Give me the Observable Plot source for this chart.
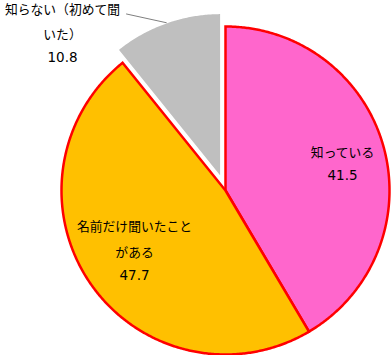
<!DOCTYPE html>
<html><head><meta charset="utf-8">
<script src="https://cdn.jsdelivr.net/npm/d3@7"></script>
<script src="https://cdn.jsdelivr.net/npm/@observablehq/plot@0.6"></script>
<style>
html,body{margin:0;padding:0;background:#fff}
g[aria-label="values"] text{letter-spacing:1.3px}
</style>
</head><body><div id="chart"></div>
<script>
// Data
const categories = ["知っている", "名前だけ聞いたことがある", "知らない（初めて聞いた）"];
const labelText = ["知っている", "名前だけ聞いたこと\nがある", "知らない（初めて聞\nいた）"];
const values = [41.5, 47.7, 10.8];

// Styling
const palette = ["#FF66CC", "#FFC000", "#BFBFBF"];
const outline = ["#FF0000", "#FF0000", "#FFFFFF"];
const explode = [0, 0, 0.085];

// Layout (data units: pie radius = 1)
const R = 164;
const cx = 225, cy = 190;
const W = 391, H = 355;
const lineGap = 25.5; // px between label lines
const labelR = [0.735, 0.658];
const labelShift = [1.4, 2.2]; // degrees
const outsideLabel = {x: (62 - cx) / R, y: (cy - 30.5) / R};

const total = d3.sum(values);
let cum = 0;
const slices = values.map((v, i) => {
  const a0 = cum / total * 2 * Math.PI;
  cum += v;
  const a1 = cum / total * 2 * Math.PI;
  const mid = (a0 + a1) / 2;
  const ox = explode[i] * Math.sin(mid), oy = explode[i] * Math.cos(mid);
  return {i, cat: categories[i], value: v, a0, a1, mid, ox, oy};
});

function slicePoints(s) {
  const pts = [{cat: s.cat, x: s.ox, y: s.oy}];
  const n = Math.max(4, Math.ceil((s.a1 - s.a0) / (Math.PI / 360)));
  for (let k = 0; k <= n; k++) {
    const a = s.a0 + (s.a1 - s.a0) * k / n;
    pts.push({cat: s.cat, x: s.ox + Math.sin(a), y: s.oy + Math.cos(a)});
  }
  pts.push({cat: s.cat, x: s.ox, y: s.oy});
  return pts;
}

const mainPts = slices.filter(s => s.i < 2).flatMap(slicePoints);
const grayPts = slicePoints(slices[2]);

// Labels
const labels = slices.map(s => {
  let x, y;
  if (s.i < 2) {
    const a = s.mid + labelShift[s.i] * Math.PI / 180;
    x = labelR[s.i] * Math.sin(a); y = labelR[s.i] * Math.cos(a);
  } else {
    x = outsideLabel.x; y = outsideLabel.y;
  }
  const n = labelText[s.i].split("\n").length;
  return {x, y, name: labelText[s.i], value: s.value.toFixed(1), n};
});

const g = slices[2];
const leader = [
  {x: (126 - cx) / R, y: (cy - 13.5) / R},
  {x: g.ox + Math.sin(g.mid), y: g.oy + Math.cos(g.mid)}
];

const fontSize = 12.8;
const chart = Plot.plot({
  width: W, height: H,
  marginTop: 0, marginRight: 0, marginBottom: 0, marginLeft: 0,
  x: {domain: [-cx / R, (W - cx) / R], axis: null},
  y: {domain: [-(H - cy) / R, cy / R], axis: null},
  color: {domain: categories, range: palette},
  style: {fontFamily: "'Noto Sans CJK JP', sans-serif", background: "#fff"},
  marks: [
    Plot.line(mainPts, {x: "x", y: "y", z: "cat", fill: "cat", stroke: outline[0], strokeWidth: 2.5, strokeLinejoin: "miter", strokeMiterlimit: 10}),
    Plot.line(grayPts, {x: "x", y: "y", z: "cat", fill: "cat", stroke: outline[2], strokeWidth: 1.5, strokeLinejoin: "miter"}),
    Plot.line(leader, {x: "x", y: "y", stroke: "#7F7F7F", strokeWidth: 1}),
    ...labels.map(l => Plot.text([l], {x: "x", y: "y", text: "name", fontSize, lineHeight: lineGap / fontSize, fill: "#000", textAnchor: "middle", dy: -lineGap / 2, ariaLabel: "names"})),
    ...labels.map(l => Plot.text([l], {x: "x", y: "y", text: "value", fontSize: 13.5, fontFamily: "'DejaVu Sans', sans-serif", fill: "#000", textAnchor: "middle", dy: l.n / 2 * lineGap + 1.5, ariaLabel: "values"}))
  ]
});
document.getElementById("chart").appendChild(chart);
</script>
</body></html>
